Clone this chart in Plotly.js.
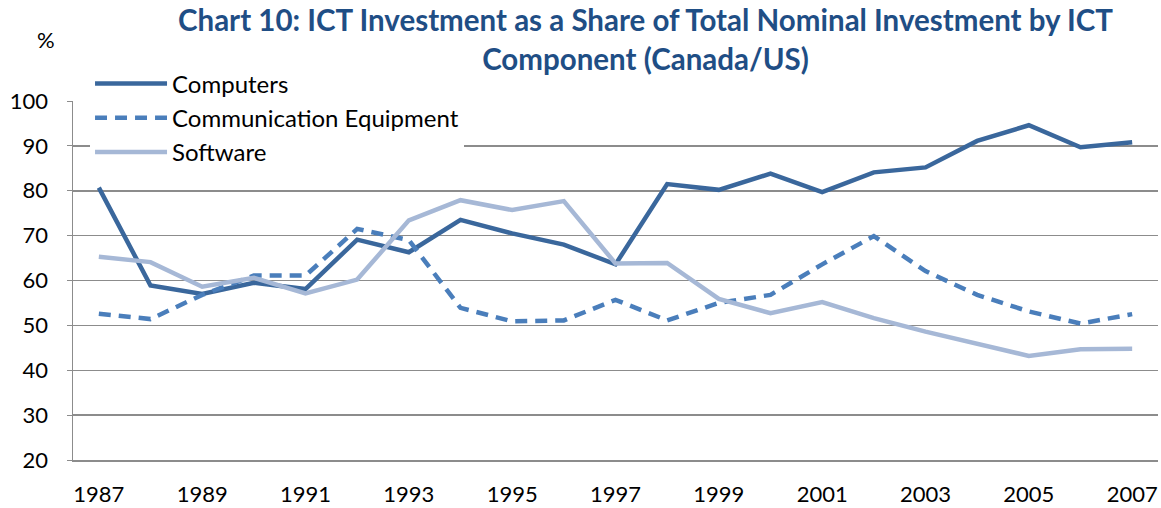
<!DOCTYPE html>
<html>
<head>
<meta charset="utf-8">
<script src="https://cdn.plot.ly/plotly-3.0.1.min.js"></script>
<style>html,body{margin:0;padding:0;background:#fff;}#chart{width:1161px;height:508px;}</style>
</head>
<body>
<div id="chart"></div>
<script>
const years = [1987,1988,1989,1990,1991,1992,1993,1994,1995,1996,1997,1998,1999,2000,2001,2002,2003,2004,2005,2006,2007];
const computers = [80.7,58.9,57.0,59.5,58.1,69.1,66.3,73.5,70.5,68.0,63.6,81.5,80.2,83.8,79.7,84.1,85.2,91.1,94.6,89.7,90.8];
const commEquipment = [52.6,51.4,56.8,61.1,61.1,71.5,69.0,53.9,50.9,51.1,55.7,51.1,55.0,56.8,63.6,69.9,62.1,56.8,53.1,50.4,52.5];
const software = [65.3,64.1,58.6,60.6,57.1,60.2,73.4,77.9,75.7,77.7,63.8,63.9,55.9,52.7,55.2,51.6,48.6,45.9,43.2,44.7,44.8];
const xTicks = [1987,1989,1991,1993,1995,1997,1999,2001,2003,2005,2007];
const yTicks = [20,30,40,50,60,70,80,90,100];

const font = "Lato, 'Open Sans', sans-serif";
const traces = [
  {x: years, y: computers, name: 'Computers', type: 'scatter', mode: 'lines',
   line: {color: '#3A679C', width: 4.5}},
  {x: years, y: commEquipment, name: 'Communication Equipment', type: 'scatter', mode: 'lines',
   line: {color: '#4A7EBB', width: 4.5, dash: '12px,8px'}},
  {x: years, y: software, name: 'Software', type: 'scatter', mode: 'lines',
   line: {color: '#A6B8D6', width: 4.5}}
];
const layout = {
  width: 1161, height: 508,
  margin: {l: 73, r: 3, t: 101, b: 48},
  paper_bgcolor: '#fff', plot_bgcolor: '#fff',
  font: {family: font, color: '#000', size: 22},
  title: {text: 'Chart 10: ICT Investment as a Share of Total Nominal Investment by ICT<br>Component (Canada/US)',
          font: {family: font, size: 29.5, color: '#1F4E85', weight: 'bold'},
          x: 0.556, xanchor: 'center', y: 0.938, yanchor: 'middle'},
  xaxis: {range: [1986.5, 2007.5], tickvals: xTicks, ticktext: xTicks.map(String),
          showgrid: false, zeroline: false, showline: true, linecolor: '#8c8c8c', linewidth: 1.5,
          ticks: '', tickfont: {size: 22}, ticklabelstandoff: 14, fixedrange: true},
  yaxis: {range: [20, 100], tickvals: yTicks, showgrid: true, gridcolor: '#8c8c8c', gridwidth: 1.5,
          zeroline: false, showline: true, linecolor: '#8c8c8c', linewidth: 1.5,
          ticks: 'outside', ticklen: 5, tickcolor: '#8c8c8c', tickfont: {size: 22},
          ticklabelstandoff: 14, fixedrange: true},
  showlegend: true,
  legend: {x: 0.0157, xanchor: 'left', y: 1.11, yanchor: 'top', bgcolor: '#fff',
           font: {size: 24, family: font}, tracegroupgap: 0, itemwidth: 72},
  annotations: [{text: '%', xref: 'paper', yref: 'paper', x: -0.025, y: 1.17, xanchor: 'center', yanchor: 'middle',
                 showarrow: false, font: {size: 22, family: font}}]
};
Plotly.newPlot('chart', traces, layout, {staticPlot: true, displayModeBar: false});
</script>
</body>
</html>
